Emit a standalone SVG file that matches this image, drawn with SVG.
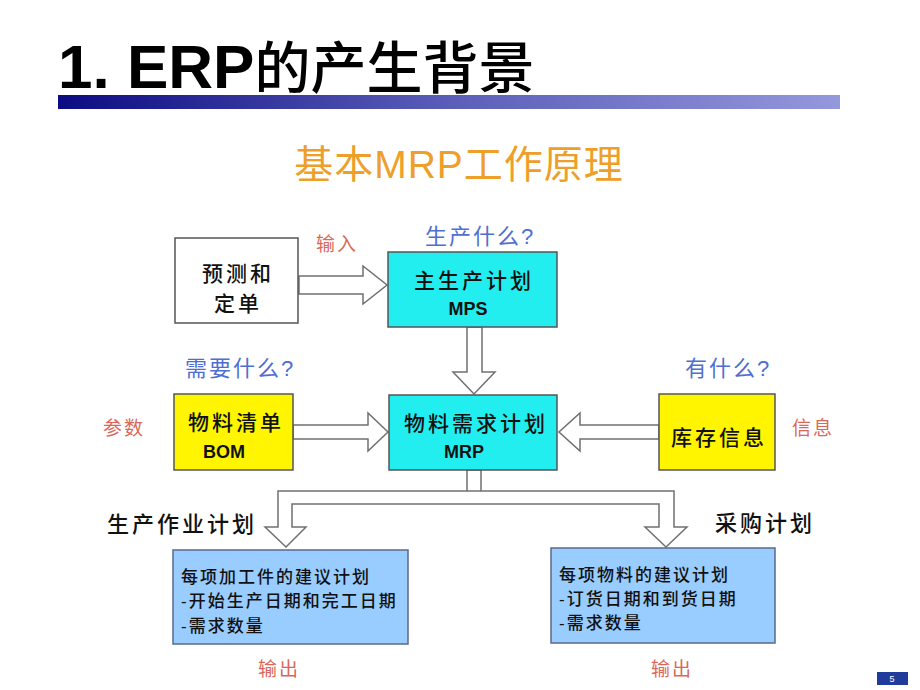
<svg xmlns="http://www.w3.org/2000/svg" width="920" height="690" viewBox="0 0 920 690">
<defs>
<linearGradient id="bar" x1="0" y1="0" x2="1" y2="0">
<stop offset="0" stop-color="#0c0c82"/>
<stop offset="0.5" stop-color="#5a5eb8"/>
<stop offset="1" stop-color="#9498dc"/>
</linearGradient>
<style>
.cjk{font-family:"Liberation Sans","Noto Sans CJK SC",sans-serif;}
.box{stroke:#555;stroke-width:1.5;}
.arr{fill:#fff;stroke:#707070;stroke-width:1.5;stroke-linejoin:miter;}
.lbl{font-size:21px;fill:#111;letter-spacing:3px;font-weight:500;}
.en{font-size:18px;font-weight:bold;fill:#111;}
.blue{font-size:22px;fill:#4f6ed2;letter-spacing:2px;}
.red{font-size:19px;fill:#d9685a;letter-spacing:2px;}
.blk{font-size:22px;fill:#111;letter-spacing:3px;font-weight:500;}
.det{font-size:17px;fill:#111;letter-spacing:2px;font-weight:500;}
</style>
</defs>
<rect width="920" height="690" fill="#fff"/>
<g id="title">
<text x="58" y="88" class="cjk" fill="#000"><tspan font-weight="bold" font-size="62">1. ERP</tspan><tspan font-weight="500" font-size="56">的产生背景</tspan></text>
<rect x="58" y="95" width="782" height="14" fill="url(#bar)"/>
</g>
<g id="subtitle">
<text x="459" y="178" class="cjk" font-size="39" fill="#ee9f2a" text-anchor="middle" letter-spacing="1">基本MRP工作原理</text>
</g>
<g id="connectors">
<polygon class="arr" points="299,276 363,276 363,266 387,285 363,304 363,294 299,294"/>
<polygon class="arr" points="467,327 482,327 482,372 495,372 474,394 453,372 467,372"/>
<polygon class="arr" points="293,425 368,425 368,413 388,432 368,451 368,439 293,439"/>
<polygon class="arr" points="659,425 580,425 580,413 559,432 580,451 580,439 659,439"/>
<polygon class="arr" points="467,470 467,491 278,491 278,527 265,527 286,547 306,527 292,527 292,504 659,504 659,527 645,527 666,547 687,527 674,527 674,491 481,491 481,470"/>
<line x1="467" y1="491" x2="481" y2="491" stroke="#707070" stroke-width="1.5"/>
</g>
<g id="forecast">
<rect x="175" y="238" width="123" height="85" fill="#fff" class="box"/>
<text x="238" y="281" class="cjk lbl" text-anchor="middle">预测和</text>
<text x="238" y="311" class="cjk lbl" text-anchor="middle">定单</text>
</g>
<g id="input-label">
<text x="316" y="251" class="cjk red">输入</text>
</g>
<g id="mps">
<rect x="388" y="252" width="169" height="75" fill="#22eef0" class="box"/>
<text x="474" y="288" class="cjk lbl" text-anchor="middle" font-size="22">主生产计划</text>
<text x="468" y="315" class="cjk en" text-anchor="middle">MPS</text>
<text x="425" y="244" class="cjk blue">生产什么?</text>
</g>
<g id="bom">
<rect x="174" y="394" width="119" height="76" fill="#fff500" class="box"/>
<text x="236" y="430" class="cjk lbl" text-anchor="middle" font-size="22">物料清单</text>
<text x="224" y="458" class="cjk en" text-anchor="middle">BOM</text>
<text x="185" y="376" class="cjk blue">需要什么?</text>
<text x="103" y="435" class="cjk red">参数</text>
</g>
<g id="mrp">
<rect x="389" y="395" width="168" height="75" fill="#22eef0" class="box"/>
<text x="476" y="431" class="cjk lbl" text-anchor="middle" font-size="22">物料需求计划</text>
<text x="464" y="458" class="cjk en" text-anchor="middle">MRP</text>
</g>
<g id="inventory">
<rect x="659" y="394" width="116" height="76" fill="#fff500" class="box"/>
<text x="719" y="445" class="cjk lbl" text-anchor="middle" font-size="22">库存信息</text>
<text x="685" y="376" class="cjk blue">有什么?</text>
<text x="792" y="435" class="cjk red">信息</text>
</g>
<g id="production-plan">
<text x="107" y="532" class="cjk blk">生产作业计划</text>
<rect x="173" y="550" width="235" height="94" fill="#99ccff" stroke="#5a6a8a" stroke-width="1.5"/>
<text x="181" y="583" class="cjk det">每项加工件的建议计划</text>
<text x="181" y="607" class="cjk det">-开始生产日期和完工日期</text>
<text x="181" y="632" class="cjk det">-需求数量</text>
<text x="258" y="676" class="cjk red">输出</text>
</g>
<g id="purchase-plan">
<text x="715" y="531" class="cjk blk">采购计划</text>
<rect x="551" y="548" width="224" height="95" fill="#99ccff" stroke="#5a6a8a" stroke-width="1.5"/>
<text x="559" y="581" class="cjk det">每项物料的建议计划</text>
<text x="559" y="605" class="cjk det">-订货日期和到货日期</text>
<text x="559" y="629" class="cjk det">-需求数量</text>
<text x="651" y="676" class="cjk red">输出</text>
</g>
<g id="page">
<rect x="877" y="672" width="31" height="13" fill="#1f3c9c"/>
<text x="892" y="682" font-family="Liberation Sans, sans-serif" font-size="9" fill="#fff" text-anchor="middle">5</text>
</g>
</svg>
